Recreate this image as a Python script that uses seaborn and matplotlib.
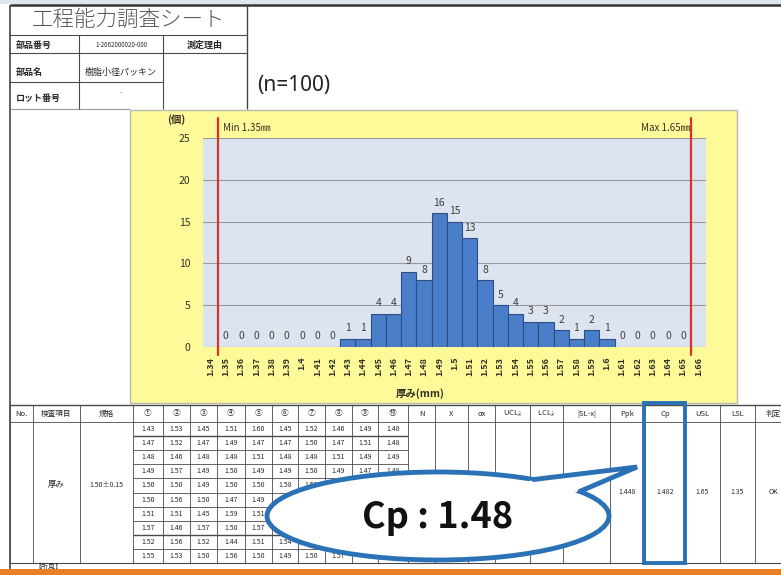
import numpy as np
import pandas as pd
import matplotlib
matplotlib.use("Agg")
import matplotlib.pyplot as plt
import seaborn as sns
from matplotlib.patches import Rectangle, Ellipse, Polygon

# ---- data -------------------------------------------------------------
thickness_bins = ["1.34", "1.35", "1.36", "1.37", "1.38", "1.39", "1.4", "1.41",
                  "1.42", "1.43", "1.44", "1.45", "1.46", "1.47", "1.48", "1.49",
                  "1.5", "1.51", "1.52", "1.53", "1.54", "1.55", "1.56", "1.57",
                  "1.58", "1.59", "1.6", "1.61", "1.62", "1.63", "1.64", "1.65",
                  "1.66"]
bin_counts = [np.nan, 0, 0, 0, 0, 0, 0, 0,
              0, 1, 1, 4, 4, 9, 8, 16,
              15, 13, 8, 5, 4, 3, 3, 2,
              1, 2, 1, 0, 0, 0, 0, 0,
              np.nan]
spec_min_index = 0.5      # boundary drawn for the 1.35 lower limit
spec_max_index = 31.5     # boundary drawn for the 1.65 upper limit

# measured thickness, ten rows of ten samples (None = cell under the balloon)
sample_rows = [
    [1.43, 1.53, 1.45, 1.51, 1.60, 1.45, 1.52, 1.46, 1.49, 1.48],
    [1.47, 1.52, 1.47, 1.49, 1.47, 1.47, 1.50, 1.47, 1.51, 1.48],
    [1.48, 1.46, 1.48, 1.48, 1.51, 1.48, 1.48, 1.51, 1.49, 1.49],
    [1.49, 1.57, 1.49, 1.50, 1.49, 1.49, 1.50, 1.49, 1.47, 1.48],
    [1.50, 1.50, 1.49, 1.50, 1.50, 1.58, 1.52, None, None, None],
    [1.50, 1.56, 1.50, 1.47, 1.49, None, None, None, None, None],
    [1.51, 1.51, 1.45, 1.59, 1.51, None, None, None, None, None],
    [1.57, 1.46, 1.57, 1.50, 1.57, None, None, None, None, None],
    [1.52, 1.56, 1.52, 1.44, 1.51, 1.54, None, None, None, None],
    [1.55, 1.53, 1.50, 1.56, 1.50, 1.49, 1.50, 1.57, None, None],
]
ppk_value = "1.448"
cp_value = "1.482"
usl_value = "1.65"
lsl_value = "1.35"
judgement = "OK"
cp_callout = "Cp : 1.48"

# ---- figure ------------------------------------------------------------
sns.set_style("white")
plt.rcParams["font.family"] = ["Noto Sans CJK JP", "DejaVu Sans"]

W, H = 781, 575
fig = plt.figure(figsize=(W / 100, H / 100), dpi=100)
fig.patch.set_facecolor("white")

# sheet layer in pixel coordinates
bg = fig.add_axes([0, 0, 1, 1], zorder=0)
bg.set_xlim(0, W)
bg.set_ylim(H, 0)
bg.axis("off")

LINE = "#4a4a4a"


def seg(x0, y0, x1, y1, lw=0.6, color=LINE, z=2):
    bg.plot([x0, x1], [y0, y1], color=color, lw=lw, solid_capstyle="butt", zorder=z)


def txt(x, y, s, size=5.5, ha="center", weight="normal", color="#2a2a2a", z=3, **kw):
    bg.text(x, y, s, fontsize=size, ha=ha, va="center", fontweight=weight,
            color=color, zorder=z, **kw)


# page top strip and borders
bg.add_patch(Rectangle((0, 0), W, 3.5, fc="#dde6f1", ec="none", zorder=1))
seg(10, 5, W, 5, lw=1.8, color="#333333")
seg(10, 5, 10, 570, lw=1.2, color="#444444")
seg(10, 109, 130, 109, lw=0.8, color="#999999")

# title block
seg(247, 5, 247, 109, lw=1.0, color="#444444")
seg(10, 35, 247, 35, lw=0.8)
seg(10, 53, 247, 53, lw=0.8)
seg(10, 82, 163, 82, lw=0.8)
seg(79, 35, 79, 109, lw=0.8)
seg(163, 35, 163, 109, lw=0.8)
txt(129, 20, "工程能力調査シート", size=15.5, weight="light", color="#5a5a5a")
txt(16, 45, "部品番号", size=6.5, ha="left", weight="bold")
txt(121, 45, "1-2062000020-000", size=4.5)
txt(205, 45, "測定理由", size=6.5, weight="bold")
txt(16, 72, "部品名", size=6.5, ha="left", weight="bold")
txt(121, 72, "樹脂小径パッキン", size=6.5)
txt(16, 98, "ロット番号", size=6.5, ha="left", weight="bold")
txt(121, 93, "-", size=5.5, color="#888888")
bg.text(257, 85, "(n=100)", fontsize=15, ha="left", va="center",
        color="#222222", family=["Noto Sans", "DejaVu Sans"])

# chart frame
bg.add_patch(Rectangle((130, 110), 607, 293, fc="#fefa9a", ec="#b9b9b0", lw=1.0, zorder=1))
txt(176, 120, "(個)", size=7.5, weight="bold", color="#333322")
txt(223, 128, "Min 1.35㎜", size=7, ha="left", color="#333322")
txt(690, 128, "Max 1.65㎜", size=7, ha="right", color="#333322")
txt(420, 394, "厚み(mm)", size=7.5, weight="bold", color="#333322")

# ---- histogram -----------------------------------------------------------
ax = fig.add_axes([203 / W, 1 - 347 / H, 503 / W, (347 - 138) / H], zorder=1)
ax.set_facecolor("#dce4f0")
hist = pd.DataFrame({"bin": thickness_bins, "count": bin_counts}).dropna()
sns.barplot(data=hist, x="bin", y="count", order=thickness_bins, color="#4a7ec8",
            saturation=1, width=1.0, edgecolor="#2c4e85", linewidth=0.8, ax=ax)
for cont in ax.containers:
    ax.bar_label(cont, fmt="{:.0f}", padding=4, fontsize=7.5, color="#404040")
ax.set_xlim(-0.5, len(thickness_bins) - 0.5)
ax.set_ylim(0, 25)
ax.set_yticks([0, 5, 10, 15, 20, 25])
ax.yaxis.grid(True, color="#9a9a9a", lw=0.8)
ax.set_axisbelow(True)
ax.set_xlabel("")
ax.set_ylabel("")
for s in ax.spines.values():
    s.set_visible(False)
ax.tick_params(axis="y", labelsize=7.5, labelcolor="#333322", length=0, pad=9)
ax.tick_params(axis="x", labelsize=6.5, labelcolor="#333322", length=0, pad=7,
               labelrotation=90)
for lab in ax.get_xticklabels():
    lab.set_fontweight("bold")
for xi in (spec_min_index, spec_max_index):
    ax.plot([xi, xi], [-0.95, 27.4], color="#e0302a", lw=1.6, clip_on=False, zorder=5)

# ---- inspection table ------------------------------------------------------
top, head_bot = 405, 422
row_h = 14.1
col_x = [10, 33, 80, 133, 163, 190, 217, 245, 272, 298, 325, 352, 378, 408,
         435, 468, 495, 530, 563, 610, 645, 685, 720, 755]
data_bot = head_bot + 10 * row_h
seg(10, top, W, top, lw=1.0)
seg(10, head_bot, W, head_bot, lw=0.6)
seg(10, data_bot, W, data_bot, lw=0.8)
for x in col_x:
    seg(x, top, x, data_bot, lw=0.6)
for k in range(1, 10):
    y = head_bot + k * row_h
    seg(133, y, 408, y, lw=1.0 if k in (1, 8) else 0.6)

head_y = (top + head_bot) / 2
headers = ["No.", "検査項目", "規格", "①", "②", "③", "④", "⑤", "⑥", "⑦", "⑧", "⑨",
           "⑩", "N", "X", "σx", r"UCL$_{\bar{x}}$", r"LCL$_{\bar{x}}$", "|SL-x|", "Ppk",
           "Cp", "USL", "LSL", "判定"]
col_edges = col_x + [W + 10]
for i, h in enumerate(headers):
    cx = (col_edges[i] + col_edges[i + 1]) / 2
    txt(cx, head_y, h, size=5.5)

for r, row in enumerate(sample_rows):
    cy = head_bot + (r + 0.5) * row_h
    for c, v in enumerate(row):
        if v is None:
            continue
        cx = (col_x[3 + c] + col_x[4 + c]) / 2
        txt(cx, cy, f"{v:.2f}", size=5)

txt(56, 485, "厚み", size=6)
txt(106, 485, "1.50±0.15", size=5)
mid_y = 492
for i, v in zip([19, 20, 21, 22, 23], [ppk_value, cp_value, usl_value, lsl_value, judgement]):
    cx = (col_edges[i] + col_edges[i + 1]) / 2
    txt(cx, mid_y, v, size=5)

txt(48, 567, "【所見】", size=5)
bg.add_patch(Rectangle((0, 569), W, 6, fc="#e97f24", ec="none", zorder=4))

# Cp column highlight
bg.add_patch(Rectangle((644, 403), 41, 160, fc="none", ec="#2a72b5", lw=2.8, zorder=6))

# ---- Cp balloon ------------------------------------------------------------
ecx, ecy, ew, eh = 438, 516, 342, 88
blue = "#2a72b5"
bg.add_patch(Ellipse((ecx, ecy), ew, eh, fc="white", ec=blue, lw=3.5, zorder=7))


def on_ellipse(deg, shrink=1.0):
    t = np.radians(deg)
    return (ecx + shrink * ew / 2 * np.cos(t), ecy - shrink * eh / 2 * np.sin(t))


tip = (637, 467)
b1 = on_ellipse(56)
b2 = on_ellipse(34)
i1 = on_ellipse(56, 0.9)
i2 = on_ellipse(34, 0.9)
bg.add_patch(Polygon([i1, b1, tip, b2, i2], closed=True, fc="white", ec="none", zorder=8))
bg.plot([b1[0], tip[0], b2[0]], [b1[1], tip[1], b2[1]], color=blue, lw=3.5,
        solid_joinstyle="miter", zorder=9)
bg.text(ecx, ecy + 1, cp_callout, fontsize=26, fontweight="bold", ha="center",
        va="center", color="#111111", zorder=10)

fig.savefig("out.png", dpi=100)
